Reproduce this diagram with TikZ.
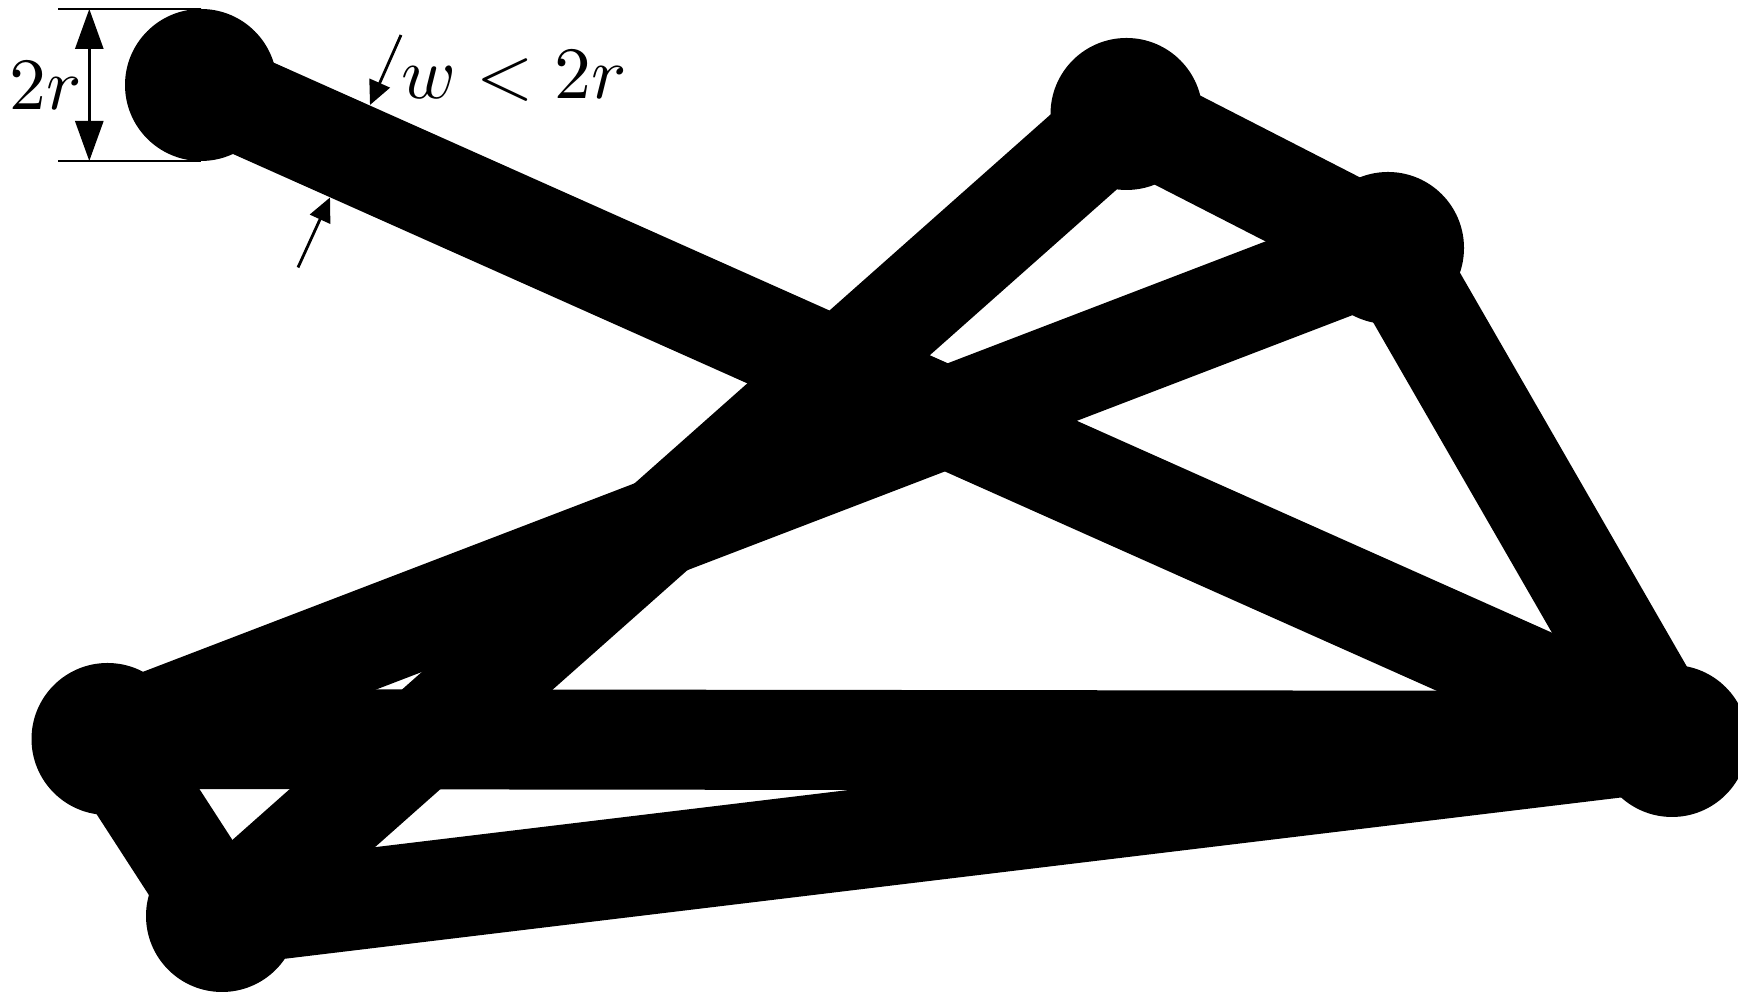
\documentclass[tikz,border=0pt]{standalone}
\usepackage{amsmath}
\usetikzlibrary{arrows.meta}

\tikzset{
  edge/.style={line width=1cm, black},
  vertex/.style={fill=black},
  dimline/.style={thick, {Triangle[length=4mm,width=2.8mm]}-{Triangle[length=4mm,width=2.8mm]}},
  wmark/.style={thick, -{Triangle[length=2.4mm,width=2.2mm]}},
  lbl/.style={scale=2.1, inner sep=0pt, anchor=base},
}

\begin{document}
\begin{tikzpicture}
  \useasboundingbox (0,0) rectangle (17.38,9.94);

  % disc centres
  \coordinate (A) at (2.01,9.09);
  \coordinate (B) at (11.265,8.80);
  \coordinate (C) at (13.88,7.46);
  \coordinate (D) at (1.075,2.55);
  \coordinate (E) at (16.72,2.53);
  \coordinate (F) at (2.22,0.78);

  % wide edges, width w
  \foreach \u/\v in {A/E, B/F, C/D, B/C, C/E, D/E, F/E, D/F}
    \draw[edge] (\u) -- (\v);

  % discs of radius r
  \foreach \p in {A,B,C,D,E,F}
    \fill[vertex] (\p) circle (0.76);

  % diameter 2r of the first disc
  \coordinate (Atop) at (2.01,9.85);
  \coordinate (Abot) at (2.01,8.33);
  \coordinate (exttop) at (0.58,9.85);
  \coordinate (extbot) at (0.58,8.33);
  \coordinate (dimtop) at (0.893,9.85);
  \coordinate (dimbot) at (0.893,8.33);
  \draw[thick] (exttop) -- (Atop);
  \draw[thick] (extbot) -- (Abot);
  \draw[dimline] (dimtop) -- (dimbot);
  \node[lbl] (twor) at (0.455,8.845) {$2r$};

  % edge width w
  \coordinate (wtopstart) at (4.01,9.59);
  \coordinate (wtoptip) at (3.70,8.89);
  \coordinate (wbotstart) at (2.98,7.265);
  \coordinate (wbottip) at (3.30,7.965);
  \draw[wmark] (wtopstart) -- (wtoptip);
  \draw[wmark] (wbotstart) -- (wbottip);
  \node[lbl] (wlabel) at (5.145,8.95) {$w<2r$};
\end{tikzpicture}
\end{document}
